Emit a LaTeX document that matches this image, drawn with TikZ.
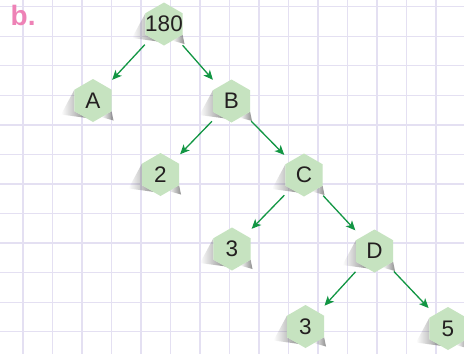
\documentclass[tikz,border=0pt]{standalone}
\usepackage{fontspec}
\setmainfont{Liberation Sans}
\usetikzlibrary{arrows.meta,fadings}

\definecolor{gridline}{RGB}{228,224,242}
\definecolor{hexfill}{RGB}{198,227,192}
\definecolor{arrowgreen}{RGB}{18,150,68}
\definecolor{labelpink}{RGB}{238,130,182}
\definecolor{inktext}{RGB}{35,31,32}

\tikzset{
  gridrule/.style={draw=gridline, line width=1.3pt},
  hexbody/.style={fill=hexfill},
  hexshade/.style={fill=black!60, fill opacity=0.75, path fading=west},
  hexlabel/.style={circle, minimum size=44pt, inner sep=0pt, text=inktext,
                   font=\fontsize{22.5}{22.5}\selectfont},
  conn/.style={draw=arrowgreen, line width=1.3pt,
               -{Stealth[length=9.5pt,width=8.5pt,inset=2.5pt]},
               shorten <=6pt, shorten >=6pt},
}

% hexagon with its cast shadow and a named text node on top
\newcommand\hexnode[3]{%
  \begin{scope}[shift={#2}]
    \fill[hexshade] (-18.6,-10.75) -- (-32,14) -- (-6,17.5) -- (-18.6,10.75) -- cycle;
    \fill[hexshade] (18.6,10.75) -- (20.5,20) -- (8,16.5) -- cycle;
    \fill[hexbody] (90:21.5) -- (150:21.5) -- (210:21.5) -- (270:21.5)
                   -- (330:21.5) -- (30:21.5) -- cycle;
  \end{scope}
  \node[hexlabel] (#1) at #2 {#3};
}

\begin{document}
\begin{tikzpicture}[x=1pt,y=-1pt]
  \useasboundingbox (0,0) rectangle (464,354);
  \fill[white] (0,0) rectangle (464,354);

  % squared paper
  \foreach \i in {0,...,15}
    \draw[gridrule] ({23+29.5*\i},0) -- ({23+29.5*\i},354);
  \foreach \j in {0,...,11}
    \draw[gridrule] (0,{6.7+29.55*\j}) -- (464,{6.7+29.55*\j});

  % part label
  \node[anchor=base west, inner sep=0pt, text=labelpink,
        font=\bfseries\fontsize{28}{28}\selectfont] (part) at (10.5,25) {b.};

  % factor tree
  \hexnode{n180}{(164,24)}{180}
  \hexnode{nA}{(93,100.5)}{A}
  \hexnode{nB}{(231.5,101)}{B}
  \hexnode{n2}{(160.5,174.5)}{2}
  \hexnode{nC}{(304,175)}{C}
  \hexnode{n3a}{(232,249)}{3}
  \hexnode{nD}{(374.5,251)}{D}
  \hexnode{n3b}{(305.5,326.5)}{3}
  \hexnode{n5}{(448,328.5)}{5}

  \draw[conn] (n180) -- (nA);
  \draw[conn] (n180) -- (nB);
  \draw[conn] (nB) -- (n2);
  \draw[conn] (nB) -- (nC);
  \draw[conn] (nC) -- (n3a);
  \draw[conn] (nC) -- (nD);
  \draw[conn] (nD) -- (n3b);
  \draw[conn] (nD) -- (n5);
\end{tikzpicture}
\end{document}
